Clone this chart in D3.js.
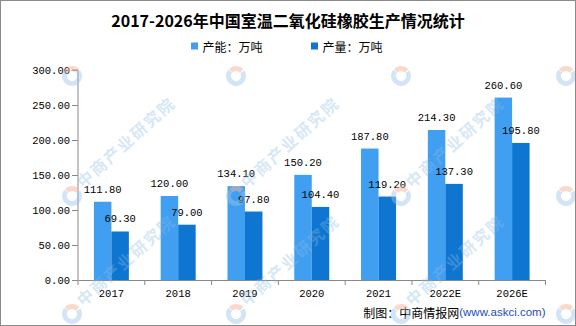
<!DOCTYPE html>
<html>
<head>
<meta charset="utf-8">
<script src="https://cdn.jsdelivr.net/npm/d3@7/dist/d3.min.js"></script>
<style>
  html, body { margin: 0; padding: 0; background: #fff; }
  svg { display: block; }
</style>
</head>
<body>
<script>
// ---- data ----
const categories = ["2017", "2018", "2019", "2020", "2021", "2022E", "2026E"];
const seriesNames = ["产能：万吨", "产量：万吨"];
const capacity = [111.8, 120.0, 134.1, 150.2, 187.8, 214.3, 260.6];
const output = [69.3, 79.0, 97.8, 104.4, 119.2, 137.3, 195.8];
const yTicks = [0, 50, 100, 150, 200, 250, 300];
const titleText = "2017-2026年中国室温二氧化硅橡胶生产情况统计";
const sourceText = "制图：中商情报网";
const sourceUrl = "(www.askci.com)";
const watermarkText = "中商产业研究院";

const colors = ["#409ff1", "#0e76d0"];
const W = 576, H = 326;
const margin = { left: 78, right: 30.5, top: 70, bottom: 46 };

const svg = d3.select("body").append("svg").attr("width", W).attr("height", H);
svg.append("rect").attr("width", W).attr("height", H).attr("fill", "#fff");

const x0 = d3.scaleBand().domain(categories).range([margin.left, W - margin.right]).padding(0);
const x1 = d3.scaleBand().domain([0, 1]).range([0, x0.bandwidth()]).paddingInner(0).paddingOuter(0.91);
const y = d3.scaleLinear().domain([0, 300]).range([H - margin.bottom, margin.top]);

const monoFont = "'Liberation Mono', 'DejaVu Sans Mono', monospace";
const cjkFont = "'Noto Sans CJK SC', sans-serif";

// title
svg.append("text").attr("x", 288).attr("y", 20).attr("text-anchor", "middle")
  .attr("dominant-baseline", "central")
  .attr("font-family", cjkFont).attr("font-weight", "bold").attr("font-size", 16)
  .attr("fill", "#000").text(titleText);

// legend
const legendX = [191, 311];
seriesNames.forEach((s, i) => {
  const g = svg.append("g").attr("transform", `translate(${legendX[i]},46)`);
  g.append("rect").attr("x", 0).attr("y", -3.5).attr("width", 7).attr("height", 7).attr("fill", colors[i]);
  g.append("text").attr("x", 11.5).attr("y", 0).attr("dominant-baseline", "central")
    .attr("font-family", cjkFont).attr("font-size", 12).attr("fill", "#000").text(s);
});

// y axis
const yAxis = d3.axisLeft(y).tickValues(yTicks).tickSize(6).tickPadding(2)
  .tickFormat(d => d3.format(".2f")(d));
const yg = svg.append("g").attr("transform", `translate(${margin.left},0)`).call(yAxis);
yg.select(".domain").attr("stroke", "#898989").attr("d", `M-6,${y(300)}H0V${y(0)}`);
yg.selectAll(".tick line").attr("stroke", "#898989");
yg.selectAll(".tick text").attr("font-family", monoFont).attr("font-size", 10.5)
  .attr("fill", "#000").attr("dy", "0.35em");

// x axis
const xAxis = d3.axisBottom(x0).tickSize(0).tickPadding(10);
const xg = svg.append("g").attr("transform", `translate(0,${y(0)})`).call(xAxis);
xg.select(".domain").attr("stroke", "#898989");
xg.selectAll(".tick text").attr("font-family", monoFont).attr("font-size", 10.5).attr("fill", "#000");
const bounds = categories.map(c => x0(c)).concat([x0.range()[1]]);
svg.append("g").selectAll("line").data(bounds).join("line")
  .attr("x1", d => d).attr("x2", d => d).attr("y1", y(0)).attr("y2", y(0) + 5)
  .attr("stroke", "#898989");

// bars
const series = [capacity, output];
const groups = svg.append("g").selectAll("g").data(categories).join("g")
  .attr("transform", c => `translate(${x0(c)},0)`);
groups.selectAll("rect").data((c, i) => series.map((s, k) => ({ k, v: s[i] }))).join("rect")
  .attr("x", d => x1(d.k)).attr("width", x1.bandwidth())
  .attr("y", d => y(d.v)).attr("height", d => y(0) - y(d.v))
  .attr("fill", d => colors[d.k]);
groups.selectAll("text").data((c, i) => series.map((s, k) => ({ k, v: s[i] }))).join("text")
  .attr("x", d => x1(d.k) + x1.bandwidth() / 2).attr("y", d => y(d.v) - 12)
  .attr("text-anchor", "middle").attr("dominant-baseline", "central")
  .attr("font-family", monoFont).attr("font-size", 10.5).attr("fill", "#000")
  .text(d => d3.format(".2f")(d.v));

// source
const src = svg.append("text").attr("x", 545.5).attr("y", 312).attr("text-anchor", "end")
  .attr("dominant-baseline", "central");
src.append("tspan").attr("font-family", cjkFont).attr("font-size", 12).attr("fill", "#000").text(sourceText);
src.append("tspan").attr("font-family", "'Liberation Sans', Arial, sans-serif").attr("font-size", 11.5)
  .attr("fill", "#1f4eb4").text(sourceUrl);

// watermark: logos on a grid; text only where it fits inside the picture
const wmCols = [-93, 72, 236, 401, 566];
const wmRows = [76, 196, 314];
const wm = svg.append("g").attr("pointer-events", "none");
const arcBlue = d3.arc().innerRadius(5).outerRadius(10).startAngle(Math.PI * 0.55).endAngle(Math.PI * 1.95);
const arcOrange = d3.arc().innerRadius(5).outerRadius(10).startAngle(-Math.PI * 0.02).endAngle(Math.PI * 0.5);
wmRows.forEach(ry => wmCols.forEach(cx => {
  const g = wm.append("g").attr("transform", `translate(${cx},${ry}) rotate(-42)`);
  g.append("path").attr("d", arcBlue()).attr("fill", "#9cc4ea").attr("opacity", 0.45);
  g.append("path").attr("d", arcOrange()).attr("fill", "#f3b49a").attr("opacity", 0.5);
  const fits = cx > 0 && cx + 110 < W && ry - 100 > 0;
  if (fits) {
    g.append("text").attr("x", 13).attr("y", -4.7).attr("dominant-baseline", "central")
      .attr("font-family", cjkFont).attr("font-weight", "bold").attr("font-size", 16)
      .attr("letter-spacing", 2)
      .attr("fill", "#8dbbe6").attr("opacity", 0.35).text(watermarkText);
  }
}));

// border
svg.append("rect").attr("x", 0.5).attr("y", 0.5).attr("width", W - 1).attr("height", H - 1)
  .attr("fill", "none").attr("stroke", "#8a8a8a");
</script>
</body>
</html>
